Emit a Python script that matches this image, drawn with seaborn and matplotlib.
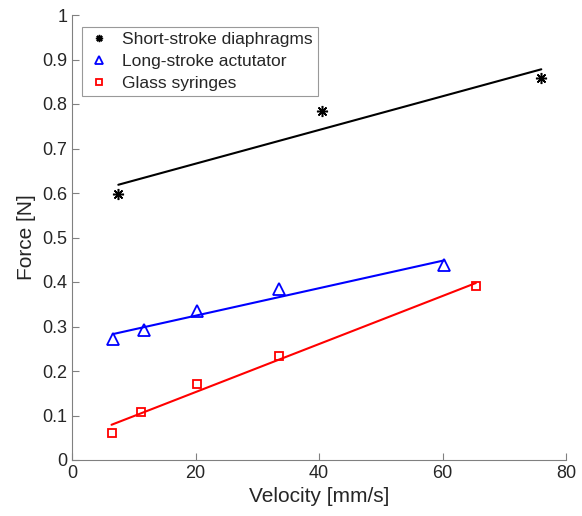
import numpy as np
import pandas as pd
import matplotlib
matplotlib.use("Agg")
import matplotlib.pyplot as plt
import seaborn as sns

# 데이터
short_v = [7.5, 40.5, 76.0]
short_f = [0.597, 0.785, 0.858]
long_v = [6.6, 11.6, 20.3, 33.5, 60.3]
long_f = [0.273, 0.292, 0.334, 0.384, 0.438]
glass_v = [6.4, 11.2, 20.2, 33.5, 65.4]
glass_f = [0.060, 0.107, 0.171, 0.233, 0.390]

labels = ["Short-stroke diaphragms", "Long-stroke actutator", "Glass syringes"]
xticks = [0, 20, 40, 60, 80]
yticks = np.round(np.arange(0, 1.01, 0.1), 1)

sns.set_style("white")
plt.rcParams["font.family"] = ["Liberation Sans", "DejaVu Sans"]

fig = plt.figure(figsize=(5.82, 5.16), dpi=100)
ax = fig.add_axes([72 / 582, 56 / 516, 494 / 582, 445 / 516])

series = [
    (short_v, short_f, "black", (8, 2, 0), 8, labels[0]),
    (long_v, long_f, "blue", "^", 8.5, labels[1]),
    (glass_v, glass_f, "red", "s", 6, labels[2]),
]

for v, f, c, m, ms, lab in series:
    df = pd.DataFrame({"v": v, "f": f})
    if m == "^" or m == "s":
        ax.plot(df["v"], df["f"], linestyle="none", marker=m, markersize=ms,
                markerfacecolor="none", markeredgecolor=c, markeredgewidth=1.3, label=lab)
    else:
        ax.plot(df["v"], df["f"], linestyle="none", marker=m, markersize=ms,
                color=c, markeredgewidth=1.1, label=lab)
    sns.regplot(data=df, x="v", y="f", scatter=False, ci=None, truncate=True,
                color=c, line_kws={"linewidth": 1.5}, ax=ax)

ax.set_xlim(0, 80)
ax.set_ylim(0, 1)
ax.set_xticks(xticks)
ax.set_yticks(yticks)
ax.set_yticklabels([("%g" % t) for t in yticks])
ax.set_xlabel("Velocity [mm/s]", fontsize=15, color="#262626", labelpad=4)
ax.set_ylabel("Force [N]", fontsize=15, color="#262626", labelpad=4)
ax.tick_params(axis="both", direction="in", length=5, width=0.8, colors="#808080",
               labelcolor="#262626", labelsize=13, left=True, bottom=True)
sns.despine(ax=ax)
for s in ["left", "bottom"]:
    ax.spines[s].set_color("#808080")
    ax.spines[s].set_linewidth(0.8)

leg = ax.legend(loc="upper left", bbox_to_anchor=(10 / 494, 0.973), borderaxespad=0,
                fontsize=12.5, frameon=True, fancybox=False, handletextpad=0.6,
                handlelength=1.4, borderpad=0.3, labelspacing=0.38, markerscale=0.65)
leg.get_frame().set_edgecolor("#808080")
leg.get_frame().set_linewidth(0.8)

fig.savefig("out.png", dpi=100)
